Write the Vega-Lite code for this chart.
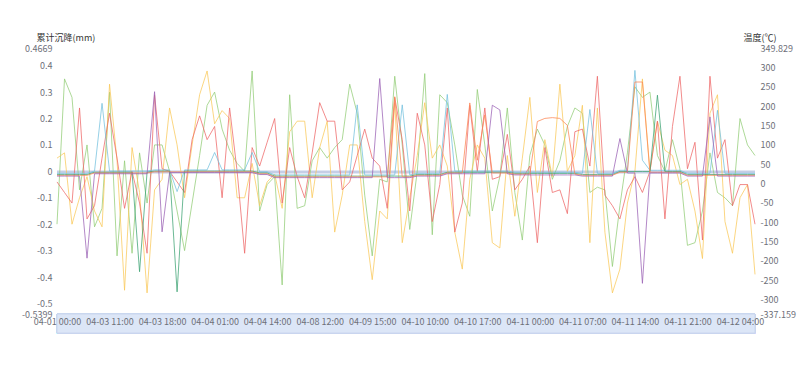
{
  "$schema": "https://vega.github.io/schema/vega-lite/v6.json",
  "width": 698,
  "height": 266,
  "autosize": {"type": "none"},
  "padding": {"left": 57, "top": 48, "right": 45, "bottom": 54},
  "background": "white",
  "config": {
    "view": {"stroke": null},
    "font": "Noto Sans CJK SC",
    "axis": {"labelFont": "Noto Sans CJK SC", "titleFont": "Noto Sans CJK SC", "labelOverlap": false},
    "axisY": {"labelOverlap": false},
    "axisQuantitative": {"labelOverlap": false}
  },
  "data": {
    "values": [
      {"t":"04-01 00:00","g":-0.2,"y":0.05,"r":-0.04,"b":-0.002,"lb":26,"tl":23,"o":21,"p":19},
      {"t":"04-01 06:00","g":0.35,"y":0.07,"r":-0.08,"b":-0.002,"lb":26,"tl":23,"o":21,"p":19},
      {"t":"04-01 12:00","g":0.28,"y":-0.2,"r":-0.12,"b":-0.002,"lb":26,"tl":23,"o":21,"p":19},
      {"t":"04-02 00:00","g":-0.07,"y":-0.1,"r":0.24,"b":-0.002,"lb":26,"tl":23,"o":21,"p":19},
      {"t":"04-02 12:00","g":0.1,"y":-0.02,"r":-0.18,"b":-0.002,"lb":26,"tl":23,"o":21,"p":-193},
      {"t":"04-03 09:00","g":-0.21,"y":-0.15,"r":-0.13,"b":-0.002,"lb":32,"tl":29,"o":27,"p":25},
      {"t":"04-03 10:00","g":-0.14,"y":-0.21,"r":0.05,"b":-0.002,"lb":207,"tl":29,"o":27,"p":25},
      {"t":"04-03 11:00","g":0.3,"y":0.33,"r":0.22,"b":-0.002,"lb":32,"tl":29,"o":27,"p":25},
      {"t":"04-03 12:00","g":-0.32,"y":0.04,"r":0.05,"b":-0.002,"lb":32,"tl":29,"o":27,"p":25},
      {"t":"04-03 13:00","g":0.04,"y":-0.45,"r":-0.14,"b":-0.002,"lb":32,"tl":29,"o":27,"p":25},
      {"t":"04-03 14:00","g":-0.31,"y":0.09,"r":0.0,"b":-0.002,"lb":32,"tl":29,"o":27,"p":25},
      {"t":"04-03 15:00","g":0.07,"y":-0.08,"r":-0.12,"b":-0.002,"lb":32,"tl":-228,"o":27,"p":25},
      {"t":"04-03 16:00","g":-0.12,"y":-0.46,"r":-0.31,"b":-0.002,"lb":32,"tl":29,"o":27,"p":25},
      {"t":"04-03 17:00","g":0.1,"y":-0.07,"r":0.29,"b":-0.002,"lb":35,"tl":32,"o":30,"p":237},
      {"t":"04-03 18:00","g":0.1,"y":-0.03,"r":0.01,"b":-0.002,"lb":35,"tl":32,"o":30,"p":-125},
      {"t":"04-03 19:00","g":0.0,"y":0.24,"r":0.0,"b":-0.002,"lb":35,"tl":32,"o":30,"p":28},
      {"t":"04-03 20:00","g":-0.15,"y":0.1,"r":-0.04,"b":-0.002,"lb":-21,"tl":-280,"o":30,"p":28},
      {"t":"04-03 21:00","g":-0.3,"y":-0.1,"r":-0.08,"b":-0.002,"lb":35,"tl":32,"o":30,"p":28},
      {"t":"04-03 22:00","g":-0.12,"y":0.1,"r":0.12,"b":-0.002,"lb":35,"tl":32,"o":30,"p":28},
      {"t":"04-03 23:00","g":0.06,"y":0.29,"r":0.21,"b":-0.002,"lb":35,"tl":32,"o":30,"p":28},
      {"t":"04-04 00:00","g":0.25,"y":0.38,"r":0.12,"b":-0.002,"lb":35,"tl":32,"o":30,"p":28},
      {"t":"04-04 01:00","g":0.3,"y":0.18,"r":0.17,"b":-0.002,"lb":80,"tl":32,"o":30,"p":28},
      {"t":"04-04 02:00","g":0.16,"y":0.23,"r":-0.1,"b":-0.002,"lb":35,"tl":32,"o":30,"p":28},
      {"t":"04-04 03:00","g":0.08,"y":0.2,"r":0.24,"b":-0.002,"lb":35,"tl":32,"o":30,"p":28},
      {"t":"04-04 05:00","g":0.03,"y":-0.1,"r":0.0,"b":-0.002,"lb":35,"tl":32,"o":30,"p":28},
      {"t":"04-04 07:00","g":0.0,"y":-0.1,"r":-0.31,"b":-0.002,"lb":35,"tl":32,"o":30,"p":28},
      {"t":"04-04 09:00","g":0.38,"y":0.03,"r":0.09,"b":-0.002,"lb":80,"tl":32,"o":30,"p":28},
      {"t":"04-04 12:00","g":-0.15,"y":-0.13,"r":0.02,"b":-0.002,"lb":30,"tl":27,"o":25,"p":23},
      {"t":"04-04 14:00","g":-0.05,"y":-0.04,"r":0.11,"b":-0.002,"lb":30,"tl":27,"o":25,"p":23},
      {"t":"04-04 15:00","g":-0.02,"y":-0.01,"r":0.2,"b":-0.002,"lb":22,"tl":19,"o":17,"p":15},
      {"t":"04-05 10:00","g":-0.43,"y":-0.14,"r":-0.12,"b":-0.002,"lb":22,"tl":19,"o":17,"p":15},
      {"t":"04-06 10:00","g":0.29,"y":0.15,"r":0.09,"b":-0.002,"lb":22,"tl":19,"o":17,"p":15},
      {"t":"04-07 10:00","g":-0.14,"y":0.19,"r":-0.02,"b":-0.002,"lb":22,"tl":19,"o":17,"p":15},
      {"t":"04-08 10:00","g":-0.13,"y":0.19,"r":-0.1,"b":-0.002,"lb":22,"tl":19,"o":17,"p":15},
      {"t":"04-08 11:00","g":0.04,"y":-0.1,"r":0.07,"b":-0.002,"lb":22,"tl":19,"o":17,"p":15},
      {"t":"04-08 12:00","g":0.09,"y":0.09,"r":0.26,"b":-0.002,"lb":22,"tl":19,"o":17,"p":15},
      {"t":"04-08 13:00","g":0.05,"y":0.19,"r":0.19,"b":-0.002,"lb":22,"tl":19,"o":17,"p":15},
      {"t":"04-08 14:00","g":0.09,"y":-0.23,"r":0.19,"b":-0.002,"lb":22,"tl":19,"o":17,"p":15},
      {"t":"04-09 10:00","g":0.12,"y":-0.09,"r":-0.07,"b":-0.002,"lb":22,"tl":19,"o":17,"p":15},
      {"t":"04-09 12:00","g":0.33,"y":0.1,"r":-0.04,"b":-0.002,"lb":22,"tl":19,"o":17,"p":15},
      {"t":"04-09 13:00","g":0.22,"y":0.1,"r":0.06,"b":-0.002,"lb":203,"tl":19,"o":17,"p":15},
      {"t":"04-09 14:00","g":-0.09,"y":-0.19,"r":0.16,"b":-0.002,"lb":22,"tl":19,"o":17,"p":15},
      {"t":"04-09 15:00","g":-0.32,"y":-0.41,"r":0.05,"b":-0.002,"lb":22,"tl":19,"o":17,"p":15},
      {"t":"04-09 16:00","g":-0.03,"y":-0.15,"r":0.02,"b":-0.002,"lb":22,"tl":19,"o":17,"p":271},
      {"t":"04-10 05:00","g":-0.04,"y":-0.18,"r":-0.14,"b":-0.002,"lb":22,"tl":19,"o":17,"p":15},
      {"t":"04-10 06:00","g":0.36,"y":0.26,"r":0.28,"b":-0.002,"lb":22,"tl":19,"o":224,"p":15},
      {"t":"04-10 07:00","g":0.1,"y":-0.27,"r":0.12,"b":-0.002,"lb":203,"tl":19,"o":17,"p":15},
      {"t":"04-10 08:00","g":-0.22,"y":-0.1,"r":-0.15,"b":-0.002,"lb":22,"tl":19,"o":17,"p":15},
      {"t":"04-10 09:00","g":0.0,"y":0.06,"r":0.22,"b":-0.002,"lb":26,"tl":23,"o":21,"p":19},
      {"t":"04-10 10:00","g":0.37,"y":0.26,"r":0.1,"b":-0.002,"lb":26,"tl":23,"o":21,"p":19},
      {"t":"04-10 11:00","g":-0.24,"y":0.05,"r":-0.19,"b":-0.002,"lb":26,"tl":23,"o":21,"p":19},
      {"t":"04-10 12:00","g":0.29,"y":0.1,"r":-0.05,"b":-0.002,"lb":26,"tl":23,"o":21,"p":19},
      {"t":"04-10 13:00","g":0.26,"y":0.02,"r":0.24,"b":-0.002,"lb":230,"tl":29,"o":27,"p":25},
      {"t":"04-10 14:00","g":0.1,"y":-0.23,"r":-0.23,"b":-0.002,"lb":32,"tl":29,"o":27,"p":25},
      {"t":"04-10 15:00","g":-0.09,"y":-0.37,"r":-0.12,"b":-0.002,"lb":32,"tl":29,"o":27,"p":25},
      {"t":"04-10 16:00","g":-0.17,"y":-0.03,"r":0.25,"b":-0.002,"lb":32,"tl":29,"o":208,"p":25},
      {"t":"04-10 17:00","g":0.31,"y":0.1,"r":0.0,"b":-0.002,"lb":32,"tl":29,"o":60,"p":25},
      {"t":"04-10 18:00","g":0.1,"y":0.05,"r":0.24,"b":-0.002,"lb":32,"tl":29,"o":177,"p":25},
      {"t":"04-10 19:00","g":-0.15,"y":-0.27,"r":-0.03,"b":-0.002,"lb":32,"tl":29,"o":27,"p":202},
      {"t":"04-10 20:00","g":-0.02,"y":-0.29,"r":-0.02,"b":-0.002,"lb":32,"tl":29,"o":27,"p":190},
      {"t":"04-10 21:00","g":0.24,"y":0.06,"r":0.14,"b":-0.002,"lb":32,"tl":29,"o":27,"p":25},
      {"t":"04-10 22:00","g":-0.08,"y":-0.17,"r":-0.07,"b":-0.002,"lb":29,"tl":26,"o":24,"p":22},
      {"t":"04-10 23:00","g":-0.26,"y":0.05,"r":-0.03,"b":-0.002,"lb":29,"tl":26,"o":24,"p":22},
      {"t":"04-11 00:00","g":0.06,"y":0.28,"r":0.02,"b":-0.002,"lb":29,"tl":26,"o":24,"p":22},
      {"t":"04-11 01:00","g":0.16,"y":-0.08,"r":-0.27,"b":-0.002,"lb":29,"tl":26,"o":160,"p":22},
      {"t":"04-11 02:00","g":0.1,"y":0.12,"r":0.09,"b":-0.002,"lb":29,"tl":26,"o":168,"p":22},
      {"t":"04-11 03:00","g":-0.03,"y":-0.02,"r":-0.08,"b":-0.002,"lb":29,"tl":26,"o":170,"p":22},
      {"t":"04-11 04:00","g":0.04,"y":0.33,"r":-0.07,"b":-0.002,"lb":29,"tl":26,"o":168,"p":22},
      {"t":"04-11 05:00","g":0.17,"y":0.0,"r":-0.16,"b":-0.002,"lb":29,"tl":26,"o":150,"p":22},
      {"t":"04-11 06:00","g":0.24,"y":0.06,"r":0.15,"b":-0.002,"lb":29,"tl":26,"o":24,"p":22},
      {"t":"04-11 07:00","g":0.22,"y":0.25,"r":0.16,"b":-0.002,"lb":26,"tl":23,"o":21,"p":19},
      {"t":"04-11 08:00","g":-0.08,"y":-0.27,"r":0.02,"b":-0.002,"lb":191,"tl":23,"o":21,"p":19},
      {"t":"04-11 09:00","g":-0.06,"y":0.24,"r":0.36,"b":-0.002,"lb":26,"tl":23,"o":21,"p":19},
      {"t":"04-11 10:00","g":-0.07,"y":-0.23,"r":-0.09,"b":-0.002,"lb":26,"tl":23,"o":21,"p":19},
      {"t":"04-11 11:00","g":-0.36,"y":-0.46,"r":-0.13,"b":-0.002,"lb":26,"tl":23,"o":21,"p":19},
      {"t":"04-11 12:00","g":-0.13,"y":-0.37,"r":-0.18,"b":-0.002,"lb":34,"tl":31,"o":29,"p":116},
      {"t":"04-11 13:00","g":0.07,"y":-0.12,"r":-0.07,"b":-0.002,"lb":34,"tl":31,"o":29,"p":27},
      {"t":"04-11 14:00","g":0.32,"y":0.0,"r":-0.02,"b":-0.002,"lb":292,"tl":31,"o":262,"p":27},
      {"t":"04-11 15:00","g":0.28,"y":0.35,"r":-0.08,"b":-0.002,"lb":60,"tl":31,"o":262,"p":-258},
      {"t":"04-11 16:00","g":0.3,"y":0.0,"r":0.0,"b":-0.002,"lb":34,"tl":31,"o":29,"p":27},
      {"t":"04-11 17:00","g":0.06,"y":0.19,"r":0.19,"b":-0.002,"lb":34,"tl":228,"o":29,"p":27},
      {"t":"04-11 18:00","g":0.0,"y":0.08,"r":-0.18,"b":-0.002,"lb":34,"tl":31,"o":29,"p":27},
      {"t":"04-11 19:00","g":0.12,"y":0.06,"r":0.17,"b":-0.002,"lb":34,"tl":31,"o":29,"p":27},
      {"t":"04-11 20:00","g":0.01,"y":-0.05,"r":0.36,"b":-0.002,"lb":34,"tl":31,"o":29,"p":27},
      {"t":"04-11 21:00","g":-0.28,"y":-0.03,"r":0.01,"b":-0.002,"lb":26,"tl":23,"o":21,"p":19},
      {"t":"04-11 22:00","g":-0.27,"y":-0.15,"r":0.11,"b":-0.002,"lb":26,"tl":23,"o":21,"p":19},
      {"t":"04-11 23:00","g":-0.15,"y":-0.33,"r":-0.26,"b":-0.002,"lb":26,"tl":23,"o":21,"p":19},
      {"t":"04-12 00:00","g":0.07,"y":0.22,"r":0.36,"b":-0.002,"lb":26,"tl":23,"o":21,"p":172},
      {"t":"04-12 01:00","g":-0.08,"y":0.29,"r":0.05,"b":-0.002,"lb":189,"tl":23,"o":21,"p":19},
      {"t":"04-12 02:00","g":-0.1,"y":-0.19,"r":0.12,"b":-0.002,"lb":26,"tl":23,"o":21,"p":19},
      {"t":"04-12 03:00","g":-0.13,"y":-0.31,"r":-0.13,"b":-0.002,"lb":26,"tl":23,"o":21,"p":19},
      {"t":"04-12 04:00","g":0.2,"y":-0.1,"r":-0.05,"b":-0.002,"lb":26,"tl":23,"o":21,"p":19},
      {"t":"04-12 05:00","g":0.1,"y":-0.05,"r":-0.05,"b":-0.002,"lb":26,"tl":23,"o":21,"p":19},
      {"t":"04-12 06:00","g":0.06,"y":-0.39,"r":-0.2,"b":-0.002,"lb":26,"tl":23,"o":21,"p":19}
    ]
  },
  "encoding": {
    "x": {
      "field": "t",
      "type": "ordinal",
      "scale": {"type": "point", "padding": 0},
      "axis": {
        "title": null,
        "values": ["04-01 00:00","04-03 11:00","04-03 18:00","04-04 01:00","04-04 14:00","04-08 12:00","04-09 15:00","04-10 10:00","04-10 17:00","04-11 00:00","04-11 07:00","04-11 14:00","04-11 21:00","04-12 04:00"],
        "labelAngle": 0,
        "labelFontSize": 9,
        "labelColor": "#6E7079",
        "labelPadding": 3,
        "ticks": false,
        "domain": false,
        "grid": false,
        "labelOverlap": false,
        "zindex": 2
      }
    }
  },
  "layer": [
    {
      "encoding": {
        "y": {
          "type": "quantitative",
          "scale": {"domain": [-0.5399, 0.4669], "nice": false, "zero": false},
          "axis": {
            "title": "累计沉降(mm)",
            "titleAngle": 0,
            "titleAlign": "left",
            "titleBaseline": "middle",
            "titleX": -21,
            "titleY": -11,
            "titleFontSize": 9,
            "titleFontWeight": "normal",
            "titleColor": "#333333",
            "values": [-0.5399, -0.5, -0.4, -0.3, -0.2, -0.1, 0, 0.1, 0.2, 0.3, 0.4, 0.4669],
            "labelExpr": "'' + datum.value",
            "labelFontSize": 9,
            "labelColor": "#6E7079",
            "labelPadding": 5,
            "labelOverlap": false,
            "domain": false,
            "ticks": false,
            "gridColor": "#E6EAF2"
          }
        }
      },
      "layer": [
        {
          "mark": {"type": "rect", "fill": "#dce6f7", "stroke": "#c9d6ee", "strokeWidth": 1, "clip": false},
          "encoding": {
            "x": {"datum": "04-01 00:00", "type": "ordinal"},
            "x2": {"datum": "04-12 06:00"},
            "y": {"datum": -0.5399, "type": "quantitative"},
            "y2": {"datum": -0.612}
          }
        },
        {
          "mark": {"type": "line", "stroke": "#7f93c8", "strokeWidth": 3, "opacity": 0.45},
          "encoding": {
            "y": {"field": "b", "type": "quantitative"}
          }
        },
        {
          "transform": [{"fold": ["g", "y", "r"], "as": ["s", "v"]}],
          "mark": {"type": "line", "strokeWidth": 1, "opacity": 0.75},
          "encoding": {
            "y": {"field": "v", "type": "quantitative"},
            "color": {
              "field": "s",
              "type": "nominal",
              "scale": {"domain": ["g", "y", "r", "lb", "tl", "o", "p"], "range": ["#91cc75", "#fac858", "#ee6666", "#73c0de", "#3ba272", "#fc8452", "#9a60b4"]},
              "legend": null
            }
          }
        }
      ]
    },
    {
      "transform": [{"fold": ["lb", "tl", "o", "p"], "as": ["s", "v"]}],
      "mark": {"type": "line", "strokeWidth": 1, "opacity": 0.75},
      "encoding": {
        "y": {
          "field": "v",
          "type": "quantitative",
          "scale": {"domain": [-337.159, 349.829], "nice": false, "zero": false},
          "axis": {
            "orient": "right",
            "title": "温度(℃)",
            "titleAngle": 0,
            "titleAlign": "left",
            "titleBaseline": "middle",
            "titleX": -12,
            "titleY": -11,
            "titleFontSize": 9,
            "titleFontWeight": "normal",
            "titleColor": "#333333",
            "values": [-337.159, -300, -250, -200, -150, -100, -50, 0, 50, 100, 150, 200, 250, 300, 349.829],
            "labelExpr": "'' + datum.value",
            "labelFontSize": 9,
            "labelColor": "#6E7079",
            "labelPadding": 5,
            "labelOverlap": false,
            "domain": false,
            "ticks": false,
            "gridColor": "#EBEDF2",
            "gridDash": [3, 3]
          }
        },
        "color": {
          "field": "s",
          "type": "nominal",
          "scale": {"domain": ["g", "y", "r", "lb", "tl", "o", "p"], "range": ["#91cc75", "#fac858", "#ee6666", "#73c0de", "#3ba272", "#fc8452", "#9a60b4"]},
          "legend": null
        }
      }
    }
  ],
  "resolve": {"scale": {"y": "independent"}}
}
